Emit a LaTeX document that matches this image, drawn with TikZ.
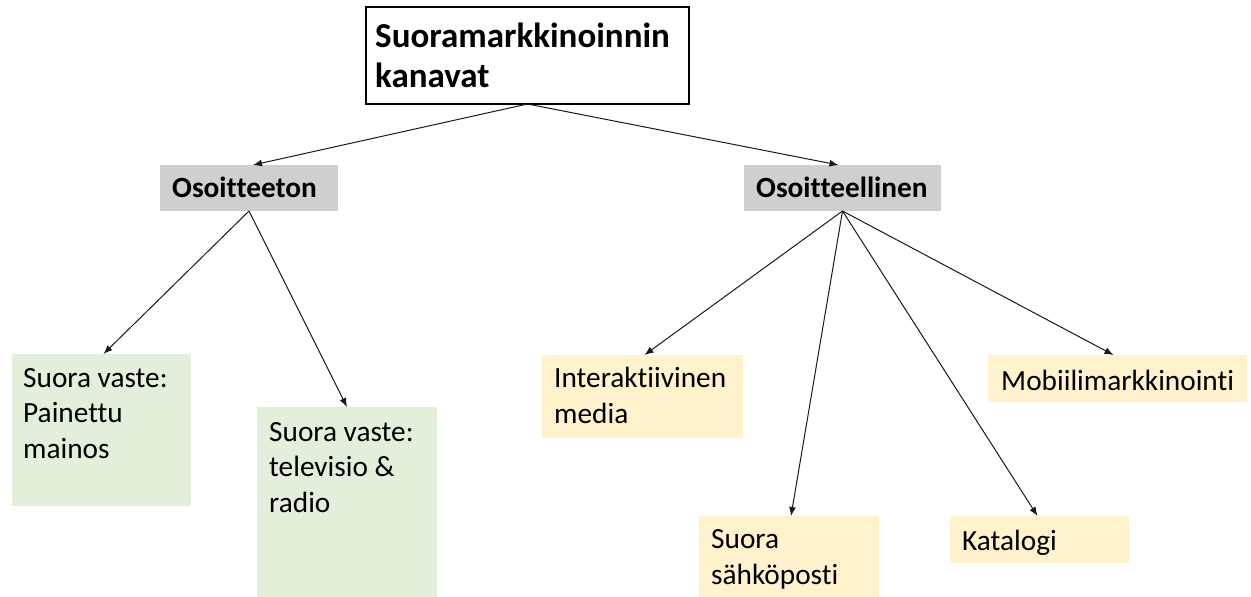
\documentclass[tikz,border=0pt]{standalone}
\usepackage{fontspec}
\setmainfont{Carlito}[Ligatures=NoCommon]
\usetikzlibrary{arrows.meta}
\definecolor{headgray}{HTML}{D0CECE}
\definecolor{leafgreen}{HTML}{E2EFDA}
\definecolor{leafyellow}{HTML}{FFF2CC}
\tikzset{
  box/.style={rectangle, inner sep=0pt, outer sep=0pt, anchor=north west},
  % text nodes are placed by the baseline of their last line
  bodytext/.style={anchor=base west, inner sep=0pt, align=left,
    font=\fontsize{29.3}{35.5}\selectfont},
  headtext/.style={anchor=base west, inner sep=0pt, align=left,
    font=\fontsize{29.3}{35.5}\selectfont\bfseries},
  link/.style={draw=black!90, line width=1pt, -{Latex[length=9pt,width=7pt]}}
}
\begin{document}
\begin{tikzpicture}[x=1pt,y=-1pt]
\useasboundingbox (0,0) rectangle (1251,597);

% root
\node[box, draw=black, line width=1.2pt, minimum width=323pt, minimum height=97pt] (root) at (366,7) {};
\node[anchor=base west, inner sep=0pt, align=left,
  font=\fontsize{35}{40}\selectfont\bfseries] (roott) at (375,87.5) {Suoramarkkinoinnin\\kanavat};

% second level
\node[box, fill=headgray, minimum width=178pt, minimum height=46pt] (unaddr) at (160,165) {};
\node[headtext] (unaddrt) at (172,197) {Osoitteeton};
\node[box, fill=headgray, minimum width=197pt, minimum height=46pt] (addr) at (744,165) {};
\node[headtext] (addrt) at (756,197) {Osoitteellinen};

% unaddressed channels
\node[box, fill=leafgreen, minimum width=179pt, minimum height=152pt] (print) at (12,354) {};
\node[bodytext] (printt) at (23,458) {Suora vaste:\\Painettu\\mainos};
\node[box, fill=leafgreen, minimum width=180pt, minimum height=190pt] (tv) at (257,407) {};
\node[bodytext] (tvt) at (269,512) {Suora vaste:\\televisio \&\\radio};

% addressed channels
\node[box, fill=leafyellow, minimum width=201pt, minimum height=83pt] (inter) at (542,355) {};
\node[bodytext] (intert) at (554,423) {Interaktiivinen\\media};
\node[box, fill=leafyellow, minimum width=259pt, minimum height=47pt] (mobile) at (988,355) {};
\node[bodytext] (mobilet) at (1001,390) {Mobiilimarkkinointi};
\node[box, fill=leafyellow, minimum width=180pt, minimum height=81pt] (email) at (699,516) {};
\node[bodytext] (emailt) at (711,584) {Suora\\sähköposti};
\node[box, fill=leafyellow, minimum width=179pt, minimum height=47pt] (catalog) at (950,516) {};
\node[bodytext] (catalogt) at (962,550) {Katalogi};

% connectors
\draw[link] (root.south) -- ([xshift=4pt]unaddr.north);
\draw[link] (root.south) -- ([xshift=-4pt]addr.north);
\draw[link] (unaddr.south) -- ([xshift=2pt]print.north);
\draw[link] (unaddr.south) -- (tv.north);
\draw[link] (addr.south) -- ([xshift=2pt]inter.north);
\draw[link] (addr.south) -- ([xshift=2pt]email.north);
\draw[link] (addr.south) -- ([xshift=-2pt]catalog.north);
\draw[link] (addr.south) -- ([xshift=-4pt]mobile.north);
\end{tikzpicture}
\end{document}
